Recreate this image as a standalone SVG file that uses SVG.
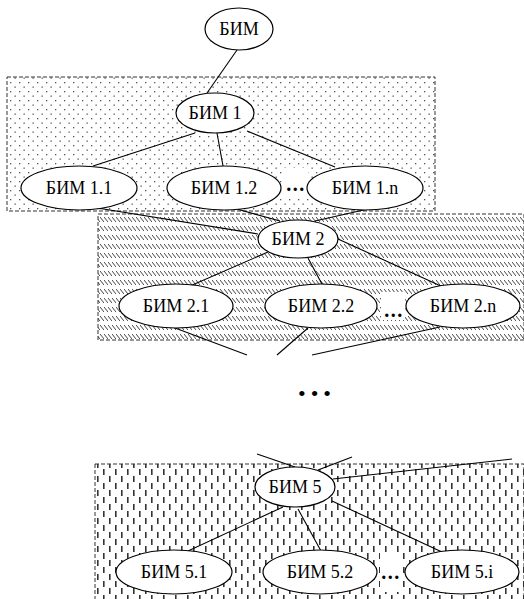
<svg xmlns="http://www.w3.org/2000/svg" width="524" height="599" viewBox="0 0 524 599">
<defs>
<pattern id="dots" width="9" height="9" patternUnits="userSpaceOnUse">
<rect x="1" y="1" width="1.3" height="1.3" fill="#555"/>
<rect x="5.5" y="5.5" width="1.3" height="1.3" fill="#555"/>
</pattern>
<pattern id="hatch" width="4" height="9" patternUnits="userSpaceOnUse">
<line x1="0" y1="1" x2="4" y2="6" stroke="#444" stroke-width="1"/>
</pattern>
<pattern id="vdash" width="12" height="14" patternUnits="userSpaceOnUse">
<rect x="1" y="0" width="1.6" height="6" fill="#333"/>
<rect x="7" y="7" width="1.6" height="6" fill="#333"/>
</pattern>
</defs>
<style>
.box{stroke:#333;stroke-width:1;stroke-dasharray:4 2}
.nd{fill:#fff;stroke:#000;stroke-width:1.2}
text{font-family:"Liberation Serif","Times New Roman","DejaVu Serif",serif}
.t{font-size:18px;text-anchor:middle;fill:#000}
.e{font-size:20px;font-weight:bold;text-anchor:middle;fill:#000;letter-spacing:1.5px}
.c{stroke:#000;stroke-width:1.1;fill:none}
</style>
<g id="groups">
<rect class="box" x="7" y="77" width="428" height="134" fill="url(#dots)"/>
<rect class="box" x="98" y="214" width="426" height="126" fill="url(#hatch)"/>
<rect class="box" x="95" y="464" width="429" height="140" fill="url(#vdash)"/>
<rect x="282" y="168" width="26" height="28" fill="#fff"/>
<rect x="381" y="292" width="24" height="28" fill="#fff"/>
<rect x="380" y="553" width="23" height="39" fill="#fff"/>
</g>
<g id="connectors">
<line class="c" x1="237" y1="50" x2="207" y2="93"/>
<line class="c" x1="195" y1="133" x2="93" y2="166"/>
<line class="c" x1="217" y1="133" x2="223" y2="166"/>
<line class="c" x1="247" y1="131" x2="335" y2="167"/>
<line class="c" x1="85" y1="206" x2="258" y2="234"/>
<line class="c" x1="233" y1="208" x2="280" y2="221"/>
<line class="c" x1="368" y1="209" x2="315" y2="221"/>
<line class="c" x1="268" y1="252" x2="190" y2="286"/>
<line class="c" x1="308" y1="258" x2="323" y2="286"/>
<line class="c" x1="338" y1="239" x2="443" y2="287"/>
<line class="c" x1="175" y1="328" x2="247" y2="355"/>
<line class="c" x1="308" y1="328" x2="277" y2="355"/>
<line class="c" x1="440" y1="327" x2="312" y2="355"/>
<line class="c" x1="257" y1="454" x2="295" y2="467"/>
<line class="c" x1="352" y1="457" x2="318" y2="470"/>
<line class="c" x1="512" y1="459" x2="333" y2="479"/>
<line class="c" x1="283" y1="507" x2="188" y2="551"/>
<line class="c" x1="298" y1="509" x2="321" y2="551"/>
<line class="c" x1="332" y1="501" x2="442" y2="552"/>
</g>
<g id="n0"><ellipse class="nd" cx="239" cy="29" rx="34" ry="21"/><text class="t" x="239" y="35" font-family="Liberation Serif, serif">БИМ</text></g>
<g id="n1"><ellipse class="nd" cx="215" cy="113" rx="39" ry="20"/><text class="t" x="215" y="119">БИМ 1</text></g>
<g id="n11"><ellipse class="nd" cx="79" cy="188" rx="58" ry="22"/><text class="t" x="79" y="194">БИМ 1.1</text></g>
<g id="n12"><ellipse class="nd" cx="224" cy="188" rx="57" ry="22"/><text class="t" x="224" y="194">БИМ 1.2</text></g>
<g id="n1n"><ellipse class="nd" cx="365" cy="188" rx="58" ry="22"/><text class="t" x="365" y="194">БИМ 1.n</text></g>
<g id="d1"><text class="e" x="296" y="191">...</text></g>
<g id="n2"><ellipse class="nd" cx="298" cy="239" rx="40" ry="19"/><text class="t" x="298" y="245">БИМ 2</text></g>
<g id="n21"><ellipse class="nd" cx="176" cy="306" rx="57" ry="22"/><text class="t" x="176" y="312">БИМ 2.1</text></g>
<g id="n22"><ellipse class="nd" cx="321" cy="306" rx="56" ry="22"/><text class="t" x="321" y="312">БИМ 2.2</text></g>
<g id="n2n"><ellipse class="nd" cx="463" cy="306" rx="57" ry="22"/><text class="t" x="463" y="312">БИМ 2.n</text></g>
<g id="d2"><text class="e" x="394" y="317">...</text></g>
<g id="dmid"><text x="317" y="401" style="font-size:22px;text-anchor:middle;letter-spacing:5px">•••</text></g>
<g id="n5"><ellipse class="nd" cx="295" cy="487" rx="40" ry="20"/><text class="t" x="295" y="493">БИМ 5</text></g>
<g id="n51"><ellipse class="nd" cx="174" cy="572" rx="58" ry="22"/><text class="t" x="174" y="578">БИМ 5.1</text></g>
<g id="n52"><ellipse class="nd" cx="320" cy="572" rx="57" ry="22"/><text class="t" x="320" y="578">БИМ 5.2</text></g>
<g id="n5i"><ellipse class="nd" cx="462" cy="572" rx="57" ry="22"/><text class="t" x="462" y="578">БИМ 5.i</text></g>
<g id="d5"><text class="e" x="391" y="579">...</text></g>
</svg>
